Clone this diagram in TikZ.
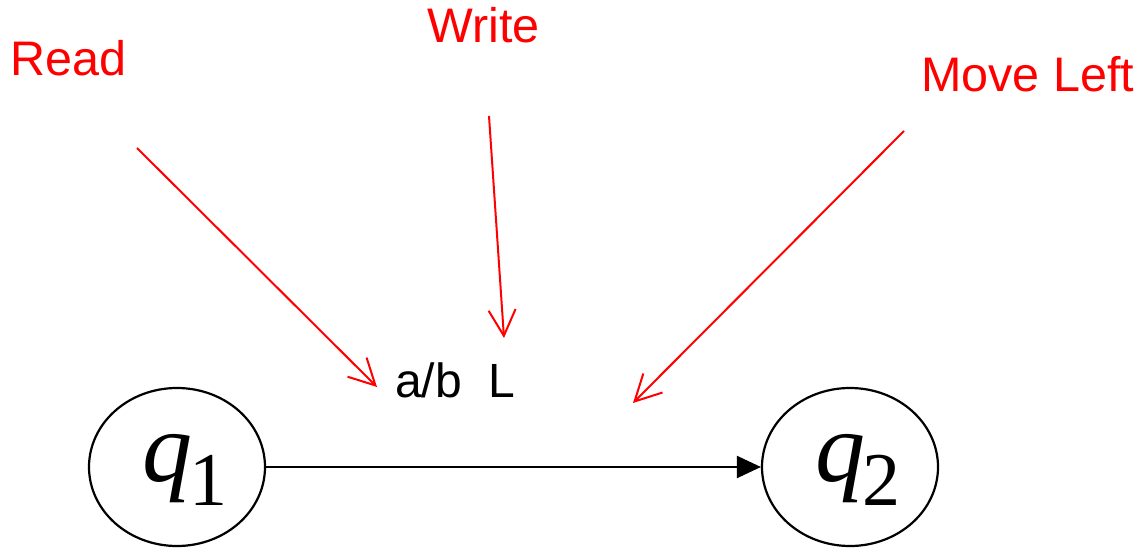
\documentclass[tikz,border=0pt]{standalone}
\usepackage{fontspec}
\setmainfont{Liberation Sans}
\newfontfamily\qserif{Liberation Serif}
\usetikzlibrary{shapes.geometric,arrows.meta}
\tikzset{
  lbl/.style={anchor=base west, inner sep=0pt, text=red, font=\fontsize{48.5}{52}\selectfont},
  trans/.style={anchor=base west, inner sep=0pt, text=black, font=\fontsize{48}{52}\selectfont},
  state/.style={draw=black, line width=2.2pt, ellipse, minimum width=176pt, minimum height=158pt, inner sep=0pt},
  qtext/.style={inner sep=0pt},
  pointer/.style={draw=red, line width=2pt, -{Straight Barb[length=26pt,width=27pt,line width=2pt]}},
  edge/.style={draw=black, line width=2.2pt, -{Triangle[length=24pt,width=22pt]}}
}
\newcommand{\qlab}[1]{{\qserif\fontsize{100}{100}\selectfont\itshape q}\kern-3pt\raisebox{-24pt}{\qserif\fontsize{76}{76}\selectfont #1}}
\begin{document}
\begin{tikzpicture}[x=1pt,y=-1pt]
\useasboundingbox[fill=white] (0,0) rectangle (1140,548);
\node[lbl] (read) at (10,76) {Read};
\node[lbl] (write) at (427,43) {Write};
\node[lbl] (left) at (921,92) {Move Left};
\node[trans] (ab) at (395,397) {a/b\ \ L};
\node[state] (q1) at (177,467) {};
\node[state] (q2) at (850,467) {};
\node[qtext] (q1t) at (185,470) {\qlab{1}};
\node[qtext] (q2t) at (858,470) {\qlab{2}};
\coordinate (r0) at (137,148);
\coordinate (r1) at (377,387);
\coordinate (w0) at (489,116);
\coordinate (w1) at (504,338);
\coordinate (m0) at (904,131);
\coordinate (m1) at (633,403);
\draw[pointer] (r0) -- (r1);
\draw[pointer] (w0) -- (w1);
\draw[pointer] (m0) -- (m1);
\draw[edge] (q1) -- (q2);
\end{tikzpicture}
\end{document}
